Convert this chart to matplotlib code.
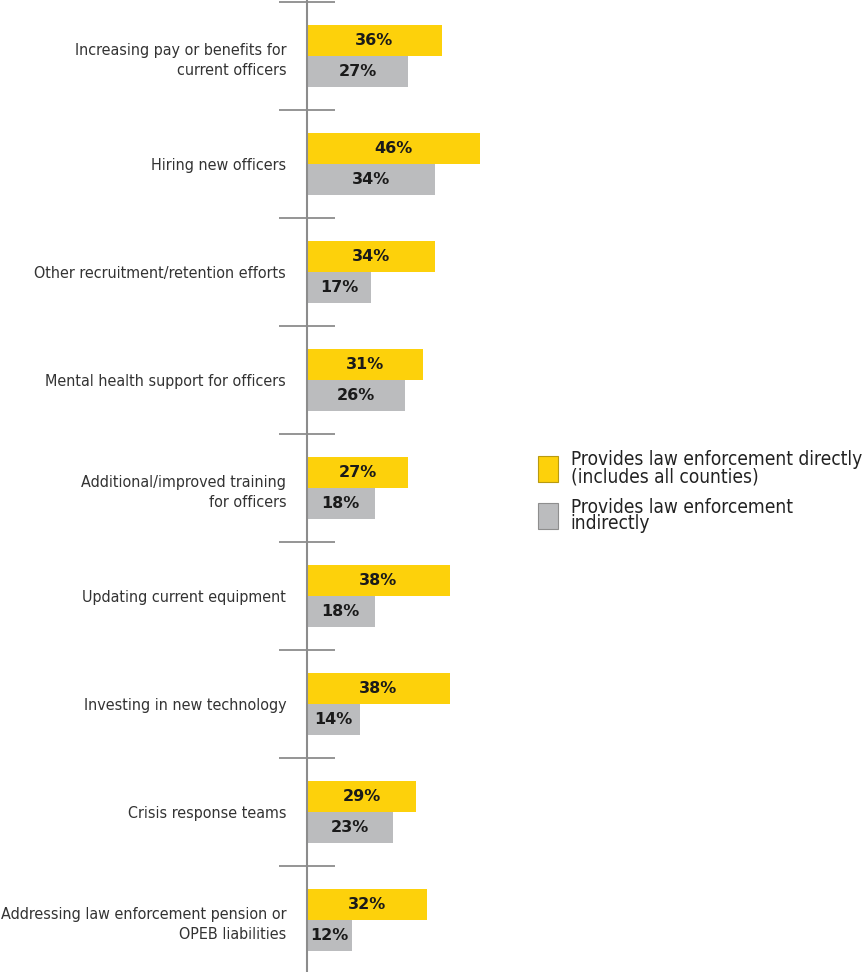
import matplotlib
matplotlib.use("Agg")
from matplotlib import pyplot as plt
from matplotlib import font_manager
import numpy as np

# Survey data: share of counties using funds for each purpose
categories = [
    "Increasing pay or benefits for\ncurrent officers",
    "Hiring new officers",
    "Other recruitment/retention efforts",
    "Mental health support for officers",
    "Additional/improved training\nfor officers",
    "Updating current equipment",
    "Investing in new technology",
    "Crisis response teams",
    "Addressing law enforcement pension or\nOPEB liabilities",
]
direct = [36, 46, 34, 31, 27, 38, 38, 29, 32]
indirect = [27, 34, 17, 26, 18, 18, 14, 23, 12]
series_names = [
    "Provides law enforcement directly\n(includes all counties)",
    "Provides law enforcement\nindirectly",
]

YELLOW = "#FDD10B"
GREY = "#BBBCBE"
LINE = "#8C8C8C"

# pick the narrowest sans face that is installed
fonts = font_manager.fontManager.ttflist
if any(f.name == "Liberation Sans Narrow" for f in fonts):
    narrow = dict(family="Liberation Sans Narrow")
elif any(f.name == "DejaVu Sans" and f.stretch == "condensed" for f in fonts):
    narrow = dict(family="DejaVu Sans", stretch="condensed")
else:
    narrow = dict(family="Roboto")

W, H = 865, 972
fig = plt.figure(figsize=(W / 100, H / 100), dpi=100)
ax = fig.add_axes([307 / W, 0, 1 - 307 / W, 1])

y = np.arange(len(categories))
bh = 0.287
b1 = ax.barh(y - bh / 2, direct, height=bh, color=YELLOW, edgecolor="none",
             label=series_names[0])
b2 = ax.barh(y + bh / 2, indirect, height=bh, color=GREY, edgecolor="none",
             label=series_names[1])

for bars, vals in [(b1, direct), (b2, indirect)]:
    ax.bar_label(bars, labels=[f"{v}%" for v in vals], label_type="center",
                 fontsize=11.5, fontweight="bold", color="#1a1a1a",
                 family="DejaVu Sans")

ax.set_xlim(0, 558 / 3.75)
ax.set_ylim(8.48, -0.5185)

for s in ["top", "right", "bottom"]:
    ax.spines[s].set_visible(False)
ax.spines["left"].set_color(LINE)
ax.spines["left"].set_linewidth(1.5)
ax.set_xticks([])

# category labels on major ticks, group separators on minor ticks
ax.set_yticks(y)
ax.set_yticklabels(categories, fontsize=12.5, color="#333333",
                   linespacing=1.45, **narrow)
ax.tick_params(axis="y", which="major", length=0, pad=15)
ax.set_yticks(y - 0.5, minor=True)
ax.tick_params(axis="y", which="minor", direction="inout", length=40,
               width=1.3, color=LINE)

leg = ax.legend(loc="upper left", bbox_to_anchor=(530 / W, 1 - 442 / H),
                bbox_transform=fig.transFigure, frameon=False,
                handlelength=0.95, handleheight=1.55, handletextpad=0.6,
                labelspacing=0.55, borderaxespad=0,
                prop=dict(size=15, **narrow))
for t in leg.get_texts():
    t.set_color("#222222")
    t.set_linespacing(0.85)
for p, ec in zip(leg.get_patches(), ["#B89A10", "#8E8E8E"]):
    p.set_edgecolor(ec)
    p.set_linewidth(0.8)

# size the labels so the longest lines fit the space beside the axis
fig.canvas.draw()
r = fig.canvas.get_renderer()
widest = max(t.get_window_extent(r).width for t in ax.get_yticklabels())
size = 12.5 * 286 / widest
for t in ax.get_yticklabels():
    t.set_fontsize(size)
widest = max(t.get_window_extent(r).width for t in leg.get_texts())
lsize = 15 * 290 / widest
for t in leg.get_texts():
    t.set_fontsize(lsize)

fig.savefig("out.png", dpi=100)
